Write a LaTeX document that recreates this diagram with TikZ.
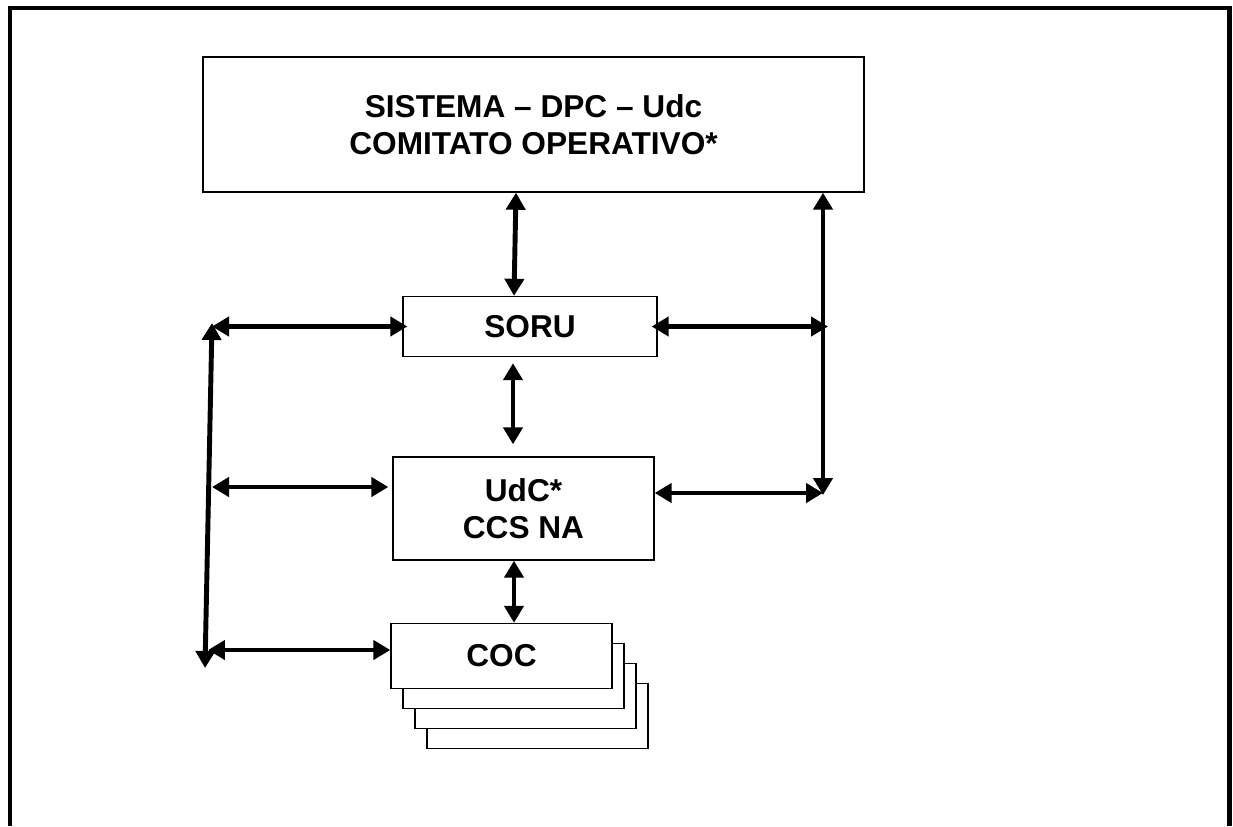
\documentclass[tikz,border=0pt]{standalone}
\usepackage{fontspec}
\setmainfont{Liberation Sans}
\usetikzlibrary{arrows.meta,calc}
\tikzset{
  box/.style={draw,line width=0.8pt,fill=white,align=center,inner sep=0pt,
    font=\bfseries\fontsize{18}{21}\selectfont},
  link/.style={line width=2.8pt,
    {Triangle[length=0.34cm,width=0.38cm]}-{Triangle[length=0.34cm,width=0.38cm]}},
}
\begin{document}
\begin{tikzpicture}[x=0.02cm,y=-0.02cm,line join=miter]
\useasboundingbox (0,0) rectangle (1233,826);
\draw[line width=2.8pt] (10,826) -- (10,8) -- (1229.5,8) -- (1229.5,826);
\node[box,minimum width=13.22cm,minimum height=2.7cm] (top) at (533.5,124.5)
  {SISTEMA – DPC – Udc\\COMITATO OPERATIVO*};
\node[box,minimum width=5.08cm,minimum height=1.2cm] (soru) at (530,326.5) {SORU};
\node[box,minimum width=5.22cm,minimum height=2.06cm] (udc) at (523.5,508.5) {UdC*\\CCS NA};
\foreach \i in {3,2,1}
  \node[box,minimum width=4.42cm,minimum height=1.3cm] (coc\i) at ({501.5+12*\i},{656+20*\i}) {};
\node[box,minimum width=4.42cm,minimum height=1.3cm] (coc) at (501.5,656) {COC};
\path (823,495) coordinate (rb)
      (212,323) coordinate (lt)
      (205,668) coordinate (lb);
\draw[link] ([xshift=-0.35cm]top.south) -- ([xshift=-0.32cm]soru.north);
\draw[link,shorten <=0.12cm,shorten >=0.24cm] ([xshift=-0.34cm]soru.south) -- ([xshift=-0.34cm]soru.south |- udc.north);
\draw[link] ([xshift=-0.19cm]udc.south) -- ([xshift=-0.19cm]udc.south |- coc.north);
\draw[link] (rb) -- (rb |- top.south);
\draw[link] ([xshift=-0.12cm]soru.east) -- ([xshift=0.1cm]soru.east -| rb);
\draw[link] ([yshift=0.31cm]udc.east) -- ([yshift=0.31cm]udc.east -| rb);
\draw[link] (lb) -- (lt);
\draw[link] (lt |- soru.west) -- ([xshift=0.1cm]soru.west);
\draw[link] ([yshift=0.43cm]udc.west -| lt) -- ([yshift=0.43cm,xshift=-0.08cm]udc.west);
\draw[link] ([yshift=0.12cm,xshift=0.06cm]coc.west -| lb) -- ([yshift=0.12cm]coc.west);
\end{tikzpicture}
\end{document}
